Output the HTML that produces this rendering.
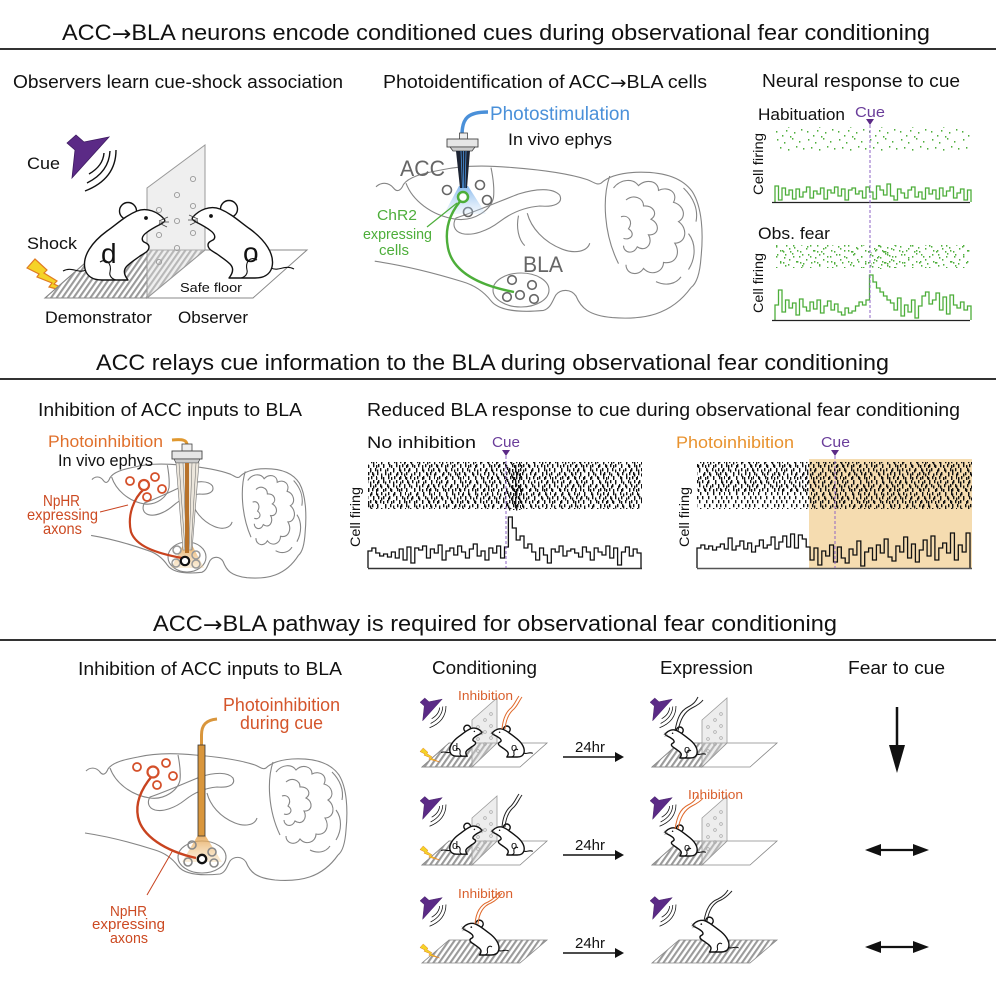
<!DOCTYPE html>
<html><head><meta charset="utf-8"><style>
html,body{margin:0;padding:0;background:#fff;}
svg{display:block;}
text{font-family:"Liberation Sans",Arial,sans-serif;}
</style></head><body>
<svg width="996" height="996" viewBox="0 0 996 996" xmlns="http://www.w3.org/2000/svg">
<defs>
<pattern id="stripe" width="4.6" height="10" patternUnits="userSpaceOnUse" patternTransform="rotate(35)"><rect width="2.1" height="10" fill="#9a9a9a"/></pattern>
<pattern id="rk" width="29" height="16" patternUnits="userSpaceOnUse"><path fill="#111" d="M1,0h1.4v3.3h-1.4z M6,0h1.4v3.3h-1.4z M12,0h1.4v3.3h-1.4z M19,0h1.4v3.3h-1.4z M25,0h1.4v3.3h-1.4z M3,4h1.4v3.3h-1.4z M10,4h1.4v3.3h-1.4z M16,4h1.4v3.3h-1.4z M22,4h1.4v3.3h-1.4z M27,4h1.4v3.3h-1.4z M0,8h1.4v3.3h-1.4z M8,8h1.4v3.3h-1.4z M13,8h1.4v3.3h-1.4z M20,8h1.4v3.3h-1.4z M24,8h1.4v3.3h-1.4z M4,12h1.4v3.3h-1.4z M11,12h1.4v3.3h-1.4z M17,12h1.4v3.3h-1.4z M23,12h1.4v3.3h-1.4z M28,12h1v3.3h-1z"/></pattern>
<pattern id="rk2" width="23" height="12" patternUnits="userSpaceOnUse"><path fill="#111" d="M2,1.5h1.3v3h-1.3z M9,1.5h1.3v3h-1.3z M17,1.5h1.3v3h-1.3z M5,5.5h1.3v3h-1.3z M13,5.5h1.3v3h-1.3z M20,5.5h1.3v3h-1.3z M0,9h1.3v3h-1.3z M8,9h1.3v3h-1.3z M15,9h1.3v3h-1.3z"/></pattern>
<pattern id="g1" width="31" height="23" patternUnits="userSpaceOnUse"><path fill="#4dae3a" d="M2,1h1.4v1.6h-1.4z M9,4h1.4v1.6h-1.4z M17,0h1.4v1.6h-1.4z M24,3h1.4v1.6h-1.4z M5,9h1.4v1.6h-1.4z M13,11h1.4v1.6h-1.4z M21,8h1.4v1.6h-1.4z M28,10h1.4v1.6h-1.4z M1,16h1.4v1.6h-1.4z M11,15h1.4v1.6h-1.4z M19,17h1.4v1.6h-1.4z M26,14h1.4v1.6h-1.4z M7,20h1.4v1.6h-1.4z M15,21h1.4v1.6h-1.4z"/></pattern>
<pattern id="g2" width="17" height="11" patternUnits="userSpaceOnUse"><path fill="#4dae3a" d="M3,1h1.4v1.6h-1.4z M11,3h1.4v1.6h-1.4z M7,6h1.4v1.6h-1.4z M15,8h1.4v1.6h-1.4z M1,9h1.4v1.6h-1.4z"/></pattern>
<linearGradient id="bluecone" x1="0" y1="0" x2="0" y2="1"><stop offset="0" stop-color="#6aa8e8" stop-opacity="0.8"/><stop offset="1" stop-color="#bcd9f5" stop-opacity="0.2"/></linearGradient>
<linearGradient id="orcone" x1="0" y1="0" x2="0" y2="1"><stop offset="0" stop-color="#e3a04a" stop-opacity="0.85"/><stop offset="1" stop-color="#f2cf98" stop-opacity="0.35"/></linearGradient>

<g id="brain" fill="none" stroke="#858585" stroke-width="1.1">
<path vector-effect="non-scaling-stroke" d="M26,131 C30,127 36,127 40,132 C43,136 46,134 48,129 C52,123 62,120 78,117 C95,113 115,113 135,115 C160,117 180,120 195,125 C200,127 203,130 206,128 C210,124 218,120 232,119 C252,118 270,122 279,135 C287,148 288,170 286,190 C285,205 282,212 278,215"/>
<path vector-effect="non-scaling-stroke" d="M25,193 C45,196 70,202 95,210 C105,213 112,218 118,226 C124,234 140,236 160,234 C166,232 167,226 170,221 C174,216 182,216 186,222 C190,232 196,238 215,240 C240,242 262,238 278,215"/>
<path vector-effect="non-scaling-stroke" d="M50,128 C55,142 70,155 90,158 C105,160 118,150 120,140 C121,130 119,120 118,115"/>
<path vector-effect="non-scaling-stroke" d="M90,157 C105,152 125,143 140,137 C155,132 168,132 173,138 C176,145 168,148 157,147 C145,148 135,152 125,160 C115,168 103,172 95,170 C88,168 87,162 90,157 Z"/>
<path vector-effect="non-scaling-stroke" d="M147,153 C150,165 160,177 175,183 C185,187 195,185 197,178"/>
<path vector-effect="non-scaling-stroke" d="M140,155 C138,165 140,175 145,180"/>
<path vector-effect="non-scaling-stroke" d="M213,122 C207,140 208,170 220,195"/>
<path vector-effect="non-scaling-stroke" d="M216,132 C222,124 232,124 236,130 C242,124 252,126 252,134 C260,130 268,136 264,144 C272,146 275,156 268,160 C276,166 274,178 265,178 C270,186 266,196 256,194 C256,202 246,206 240,199 C236,206 226,204 226,196"/>
<path vector-effect="non-scaling-stroke" d="M226,142 C232,137 240,140 240,147 C248,146 252,154 246,158 C254,162 252,172 244,171 C248,178 242,186 235,181 C232,188 224,186 224,180"/>
<path vector-effect="non-scaling-stroke" d="M222,156 C228,154 232,160 228,166 C234,170 230,176 224,174"/>
<path vector-effect="non-scaling-stroke" d="M272,132 C280,140 284,150 282,160 M276,170 C282,178 282,190 276,200 M250,210 C258,214 266,212 270,206"/>
</g>

<g id="mouse">
<circle cx="128" cy="211" r="8.5" fill="#fff" stroke="#111" stroke-width="1.4" vector-effect="non-scaling-stroke"/>
<path d="M86,270 C78,274 72,266 63,271" fill="none" stroke="#111" stroke-width="1.1" vector-effect="non-scaling-stroke"/>
<path d="M164,219 C158,212 147,207 137,211 C125,216 117,224 107,231 C92,242 82,256 85,269 C87,277 94,280 102,280 L128,280 C124,275 123,270 127,266 C131,262 136,259 140,256 C145,253 149,251 149,247 C149,244 146,243 144,242 C141,240 142,236 146,233 C151,229 157,226 161,224 C164,222 166,221 164,219 Z" fill="#fff" stroke="#111" stroke-width="1.4" stroke-linejoin="round" vector-effect="non-scaling-stroke"/>
<path d="M100,262 C106,258 112,263 110,272 C109,276 112,279 116,280" fill="none" stroke="#111" stroke-width="1.1" vector-effect="non-scaling-stroke"/>
<circle cx="146" cy="218" r="1.9" fill="#111"/>
<path d="M159,221 l9,-4 M159,222 l10,0 M159,223 l8,4" stroke="#444" stroke-width="0.7" fill="none"/>
</g>

<g id="spk">
<polygon points="67,143 76,135 84,142 109,137 72,178 75,150" fill="#5b2a86" stroke="#3d1a60" stroke-width="0.8"/>
<path d="M104,153 Q103,166 89,174 M110,151 Q109,172 87,183 M116,150 Q116,179 85,191" fill="none" stroke="#111" stroke-width="1.4"/>
</g>
<polygon id="bolt" points="27,268 35,259 47,270 44,273 57,281 54,284 76,294 49,287 52,283 37,277 39,274" fill="#f5d327" stroke="#e07b22" stroke-width="1.2"/>

<g id="condFloor">
<polygon points="422,767 520,767 547,743 449,743" fill="#fff" stroke="#888" stroke-width="0.8"/>
<polygon points="422,767 472,767 497,743 449,743" fill="url(#stripe)" stroke="#888" stroke-width="0.8"/>
<polygon points="472,767 472,720 497,698 497,743" fill="#d8d8d8" fill-opacity="0.45" stroke="#999" stroke-width="0.8"/>
<g fill="none" stroke="#aaa" stroke-width="0.7"><circle cx="478" cy="727" r="1.4"/><circle cx="478" cy="739" r="1.4"/><circle cx="478" cy="751" r="1.4"/><circle cx="485" cy="720" r="1.4"/><circle cx="485" cy="732" r="1.4"/><circle cx="485" cy="744" r="1.4"/><circle cx="491" cy="714" r="1.4"/><circle cx="491" cy="726" r="1.4"/><circle cx="491" cy="738" r="1.4"/></g>
</g>
<polygon id="floor3" points="422,963 520,963 547,940 449,940" fill="url(#stripe)" stroke="#888" stroke-width="0.8"/>
</defs>

<rect width="996" height="996" fill="#fff"/>

<!-- Titles and dividers -->
<text x="62" y="40" font-size="22" textLength="868" lengthAdjust="spacingAndGlyphs" fill="#111">ACC<tspan font-family="DejaVu Sans" dy="1">→</tspan><tspan dy="-1">BLA neurons encode conditioned cues during observational fear conditioning</tspan></text>
<line x1="0" y1="49" x2="996" y2="49" stroke="#333" stroke-width="2"/>
<text x="96" y="370" font-size="22" textLength="793" lengthAdjust="spacingAndGlyphs" fill="#111">ACC relays cue information to the BLA during observational fear conditioning</text>
<line x1="0" y1="379" x2="996" y2="379" stroke="#333" stroke-width="2"/>
<text x="153" y="631" font-size="22" textLength="684" lengthAdjust="spacingAndGlyphs" fill="#111">ACC<tspan font-family="DejaVu Sans" dy="1">→</tspan><tspan dy="-1">BLA pathway is required for observational fear conditioning</tspan></text>
<line x1="0" y1="640" x2="996" y2="640" stroke="#333" stroke-width="2"/>

<!-- ===== Section 1 left ===== -->
<text x="13" y="88" font-size="18" textLength="330" lengthAdjust="spacingAndGlyphs" fill="#111">Observers learn cue-shock association</text>
<use href="#spk"/>
<text x="27" y="169" font-size="17" textLength="33" lengthAdjust="spacingAndGlyphs" fill="#111">Cue</text>
<text x="27" y="249" font-size="17" textLength="50" lengthAdjust="spacingAndGlyphs" fill="#111">Shock</text>
<use href="#bolt"/>
<polygon points="45,298 253,298 307,250 100,250" fill="#fff" stroke="#888" stroke-width="1"/>
<polygon points="45,298 147,298 205,250 100,250" fill="url(#stripe)" stroke="#888" stroke-width="1"/>
<polygon points="147,298 147,188 205,145 205,250" fill="#dcdcdc" fill-opacity="0.45" stroke="#999" stroke-width="1"/>
<g fill="none" stroke="#999" stroke-width="0.9"><circle cx="193" cy="179" r="2.6"/><circle cx="177" cy="195" r="2.6"/><circle cx="193" cy="206" r="2.6"/><circle cx="159" cy="210" r="2.6"/><circle cx="177" cy="221" r="2.6"/><circle cx="193" cy="233" r="2.6"/><circle cx="159" cy="235" r="2.6"/><circle cx="177" cy="248" r="2.6"/><circle cx="159" cy="262" r="2.6"/></g>
<use href="#mouse"/>
<use href="#mouse" transform="matrix(-1,0,0,1,357,-2)"/>
<text x="101" y="263" font-size="28" fill="#111">d</text>
<text x="243" y="262" font-size="28" fill="#111">o</text>
<text x="180" y="292" font-size="13" textLength="62" lengthAdjust="spacingAndGlyphs" fill="#111">Safe floor</text>
<text x="45" y="323" font-size="17" textLength="107" lengthAdjust="spacingAndGlyphs" fill="#111">Demonstrator</text>
<text x="178" y="323" font-size="17" textLength="70" lengthAdjust="spacingAndGlyphs" fill="#111">Observer</text>

<!-- ===== Section 1 middle ===== -->
<text x="383" y="88" font-size="18" textLength="324" lengthAdjust="spacingAndGlyphs" fill="#111">Photoidentification of ACC<tspan font-family="DejaVu Sans" dy="1">→</tspan><tspan dy="-1">BLA cells</tspan></text>
<use href="#brain" transform="translate(343.5,29.6) scale(1.25,1.2)"/>
<ellipse cx="521" cy="290" rx="28" ry="17" fill="none" stroke="#858585" stroke-width="1.1"/>
<g fill="none" stroke="#666" stroke-width="1.6"><circle cx="447" cy="190" r="4.5"/><circle cx="480" cy="185" r="4.5"/><circle cx="487" cy="200" r="4.5"/><circle cx="468" cy="212" r="4.5"/>
<circle cx="512" cy="280" r="4.3"/><circle cx="532" cy="285" r="4.3"/><circle cx="507" cy="297" r="4.3"/><circle cx="520" cy="295" r="4.3"/><circle cx="534" cy="299" r="4.3"/></g>
<polygon points="459,186 468,186 486,214 444,214" fill="url(#bluecone)"/>
<path d="M463,198 C450,212 444,228 448,248 C452,268 472,284 514,292" fill="none" stroke="#4dae3a" stroke-width="2.4"/>
<circle cx="463" cy="197" r="5" fill="#fff" stroke="#4dae3a" stroke-width="2.5"/>
<line x1="427" y1="227" x2="457" y2="203" stroke="#4dae3a" stroke-width="1.2"/>
<path d="M462,135 C462,118 468,112 488,112" fill="none" stroke="#4a90d9" stroke-width="3.5"/>
<rect x="459.5" y="133" width="8" height="6" fill="#eee" stroke="#444" stroke-width="0.8"/>
<rect x="447" y="139" width="31" height="8" fill="#e6e6e6" stroke="#444" stroke-width="0.9"/>
<polygon points="450,147 475,147 472,151 453,151" fill="#ccc" stroke="#444" stroke-width="0.8"/>
<polygon points="456,151 470,151 467,188 460,188" fill="#1d2433"/>
<path d="M461,151 L462.5,188 M463.5,151 L463.5,188 M466,151 L465,188" stroke="#4a90d9" stroke-width="0.8"/>
<text x="490" y="120" font-size="19" textLength="140" lengthAdjust="spacingAndGlyphs" fill="#4a90d9">Photostimulation</text>
<text x="508" y="145" font-size="17" textLength="104" lengthAdjust="spacingAndGlyphs" fill="#111">In vivo ephys</text>
<text x="400" y="176" font-size="22" textLength="45" lengthAdjust="spacingAndGlyphs" fill="#666">ACC</text>
<text x="523" y="272" font-size="22" textLength="40" lengthAdjust="spacingAndGlyphs" fill="#666">BLA</text>
<text x="377" y="220" font-size="15" textLength="40" lengthAdjust="spacingAndGlyphs" fill="#4dae3a">ChR2</text>
<text x="363" y="239" font-size="15" textLength="69" lengthAdjust="spacingAndGlyphs" fill="#4dae3a">expressing</text>
<text x="379" y="255" font-size="15" textLength="30" lengthAdjust="spacingAndGlyphs" fill="#4dae3a">cells</text>

<!-- ===== Section 1 right ===== -->
<text x="762" y="87" font-size="18" textLength="198" lengthAdjust="spacingAndGlyphs" fill="#111">Neural response to cue</text>
<text x="758" y="120" font-size="17" textLength="87" lengthAdjust="spacingAndGlyphs" fill="#111">Habituation</text>
<text x="855" y="117" font-size="15" textLength="30" lengthAdjust="spacingAndGlyphs" fill="#6a3d9a">Cue</text>
<polygon points="866,119 874,119 870,125" fill="#5b2a86"/>
<rect x="775" y="127" width="195" height="24" fill="url(#g1)"/>
<rect x="775" y="245" width="195" height="23" fill="url(#g1)"/>
<rect x="775" y="245" width="195" height="23" fill="url(#g2)"/>
<rect x="869" y="245" width="24" height="23" fill="url(#g2)" transform="translate(2,1)"/>
<path d="M775,202V186h3.5V200h3.5V188h3.5V195h3.5V190h3.5V199h3.5V189h3.5V197h3.5V192h3.5V187h3.5V198h3.5V191h3.5V194h3.5V188h3.5V199h3.5V190h3.5V193h3.5V187h3.5V196h3.5V189h3.5V200h3.5V190h3.5V188h3.5V194h3.5V191h3.5V198h3.5V187h3.5V192h3.5V199h3.5V186h3.5V190h3.5V195h3.5V184h3.5V196h3.5V200h3.5V189h3.5V193h3.5V198h3.5V190h3.5V187h3.5V197h3.5V192h3.5V199h3.5V188h3.5V194h3.5V190h3.5V199h3.5V188h3.5V196h3.5V191h3.5V187h3.5V198h3.5V193h3.5V189h3.5V200h3.5V190h3.5V202" fill="none" stroke="#4dae3a" stroke-width="1.3"/>
<path d="M775,320V305h3.5V290h3.5V312h3.5V300h3.5V308h3.5V303h3.5V315h3.5V299h3.5V307h3.5V311h3.5V302h3.5V309h3.5V300h3.5V313h3.5V306h3.5V301h3.5V310h3.5V304h3.5V312h3.5V315h3.5V308h3.5V313h3.5V311h3.5V306h3.5V302h3.5V305h3.5V300h3.5V275h3.5V282h3.5V288h3.5V292h3.5V296h3.5V300h3.5V303h3.5V310h3.5V298h3.5V316h3.5V305h3.5V312h3.5V300h3.5V318h3.5V306h3.5V296h3.5V292h3.5V304h3.5V300h3.5V293h3.5V310h3.5V297h3.5V314h3.5V295h3.5V305h3.5V308h3.5V302h3.5V310h3.5V306h3.5V320" fill="none" stroke="#4dae3a" stroke-width="1.3"/>
<line x1="772" y1="202.5" x2="970" y2="202.5" stroke="#222" stroke-width="1.3"/>
<line x1="772" y1="320.5" x2="970" y2="320.5" stroke="#222" stroke-width="1.3"/>
<line x1="870" y1="125" x2="870" y2="320" stroke="#8e63c4" stroke-width="1" stroke-dasharray="3,2"/>
<text transform="translate(763,164) rotate(-90)" text-anchor="middle" font-size="14" textLength="62" lengthAdjust="spacingAndGlyphs" fill="#111">Cell firing</text>
<text x="758" y="239" font-size="17" textLength="72" lengthAdjust="spacingAndGlyphs" fill="#111">Obs. fear</text>
<text transform="translate(763,283) rotate(-90)" text-anchor="middle" font-size="14" textLength="60" lengthAdjust="spacingAndGlyphs" fill="#111">Cell firing</text>

<!-- ===== Section 2 left ===== -->
<text x="38" y="416" font-size="18" textLength="264" lengthAdjust="spacingAndGlyphs" fill="#111">Inhibition of ACC inputs to BLA</text>
<use href="#brain" transform="translate(70.6,361.7) scale(0.82,0.9)"/>
<ellipse cx="187" cy="557" rx="19" ry="15" fill="none" stroke="#858585" stroke-width="1.1"/>
<polygon points="183,545 192,545 204,568 171,568" fill="url(#orcone)"/>
<g fill="none" stroke="#999" stroke-width="1.5"><circle cx="177" cy="550" r="4"/><circle cx="196" cy="555" r="4"/><circle cx="176" cy="563" r="4"/><circle cx="196" cy="564" r="4"/></g>
<g fill="none" stroke="#d4502a" stroke-width="1.8"><circle cx="130" cy="481" r="4"/><circle cx="155" cy="477" r="4"/><circle cx="162" cy="489" r="4"/><circle cx="147" cy="497" r="4"/></g>
<path d="M144,489 C134,498 127,515 131,532 C136,546 155,553 182,558" fill="none" stroke="#c8431f" stroke-width="2.2"/>
<circle cx="144" cy="485" r="5" fill="#fff" stroke="#d4502a" stroke-width="2.2"/>
<line x1="100" y1="512" x2="128" y2="505" stroke="#c8431f" stroke-width="1"/>
<path d="M187,445 C187,440 183,439 172,440" fill="none" stroke="#e0982f" stroke-width="3"/>
<rect x="182" y="444" width="10" height="7" fill="#eee" stroke="#444" stroke-width="0.8"/>
<rect x="172" y="451" width="30" height="8" fill="#e6e6e6" stroke="#444" stroke-width="0.9"/>
<polygon points="174,459 200,459 198,463 176,463" fill="#ccc" stroke="#444" stroke-width="0.7"/>
<polygon points="176,463 199,463 192,550 183,550" fill="#ece6dc" stroke="#777" stroke-width="0.6"/>
<path d="M179,463 L185,550 M183,463 L186.5,550 M192,463 L189,550 M196,463 L191,550" stroke="#666" stroke-width="0.5"/>
<rect x="185" y="463" width="4" height="90" fill="#b8722a"/>
<circle cx="185" cy="561" r="4.2" fill="#fff" stroke="#111" stroke-width="2.2"/>
<text x="48" y="447" font-size="17" textLength="115" lengthAdjust="spacingAndGlyphs" fill="#e0702c">Photoinhibition</text>
<text x="58" y="466" font-size="17" textLength="95" lengthAdjust="spacingAndGlyphs" fill="#111">In vivo ephys</text>
<text x="43" y="506" font-size="16" textLength="37" lengthAdjust="spacingAndGlyphs" fill="#cc4a22">NpHR</text>
<text x="27" y="520" font-size="16" textLength="71" lengthAdjust="spacingAndGlyphs" fill="#cc4a22">expressing</text>
<text x="43" y="534" font-size="16" textLength="39" lengthAdjust="spacingAndGlyphs" fill="#cc4a22">axons</text>

<!-- ===== Section 2 right ===== -->
<text x="367" y="416" font-size="18" textLength="593" lengthAdjust="spacingAndGlyphs" fill="#111">Reduced BLA response to cue during observational fear conditioning</text>
<text x="367" y="448" font-size="17" textLength="109" lengthAdjust="spacingAndGlyphs" fill="#111">No inhibition</text>
<text x="492" y="447" font-size="15" textLength="28" lengthAdjust="spacingAndGlyphs" fill="#6a3d9a">Cue</text>
<polygon points="502,450 510,450 506,456" fill="#5b2a86"/>
<rect x="368" y="462" width="274" height="47" fill="url(#rk)"/>
<rect x="368" y="462" width="274" height="47" fill="url(#rk2)"/>
<rect x="506" y="462" width="14" height="47" fill="url(#rk2)" transform="translate(1,2)"/>
<rect x="508" y="462" width="10" height="47" fill="url(#rk)" transform="translate(3,1)"/>
<path d="M368,568V551h3.9V548h3.9V553h3.9V556h3.9V554h3.9V557h3.9V552h3.9V558h3.9V549h3.9V560h3.9V547h3.9V563h3.9V548h3.9V550h3.9V546h3.9V558h3.9V549h3.9V553h3.9V545h3.9V560h3.9V551h3.9V548h3.9V555h3.9V546h3.9V552h3.9V558h3.9V549h3.9V544h3.9V556h3.9V551h3.9V560h3.9V548h3.9V553h3.9V546h3.9V558h3.9V547h3.9V517h3.9V528h3.9V540h3.9V536h3.9V548h3.9V544h3.9V552h3.9V560h3.9V548h3.9V555h3.9V563h3.9V549h3.9V552h3.9V546h3.9V556h3.9V551h3.9V549h3.9V553h3.9V557h3.9V547h3.9V552h3.9V560h3.9V548h3.9V552h3.9V555h3.9V546h3.9V558h3.9V548h3.9V565h3.9V552h3.9V547h3.9V556h3.9V549h3.9V553h3.9V568" fill="none" stroke="#111" stroke-width="1.3"/>
<line x1="368" y1="568.5" x2="642" y2="568.5" stroke="#333" stroke-width="1.5"/>
<line x1="506" y1="456" x2="506" y2="568" stroke="#8e63c4" stroke-width="1" stroke-dasharray="3,2"/>
<text transform="translate(360,517) rotate(-90)" text-anchor="middle" font-size="14" textLength="60" lengthAdjust="spacingAndGlyphs" fill="#111">Cell firing</text>

<rect x="809" y="459" width="163" height="109" fill="#f5dcb0"/>
<text x="676" y="448" font-size="17" textLength="118" lengthAdjust="spacingAndGlyphs" fill="#e8922e">Photoinhibition</text>
<text x="821" y="447" font-size="15" textLength="29" lengthAdjust="spacingAndGlyphs" fill="#6a3d9a">Cue</text>
<polygon points="831,450 839,450 835,456" fill="#5b2a86"/>
<rect x="697" y="462" width="275" height="47" fill="url(#rk)"/>
<rect x="697" y="462" width="275" height="30" fill="url(#rk2)"/>
<rect x="809" y="462" width="163" height="47" fill="url(#rk2)"/>
<path d="M697,568V548h3.9V545h3.9V549h3.9V546h3.9V550h3.9V547h3.9V544h3.9V549h3.9V538h3.9V550h3.9V546h3.9V541h3.9V549h3.9V543h3.9V552h3.9V546h3.9V540h3.9V548h3.9V545h3.9V537h3.9V549h3.9V542h3.9V536h3.9V547h3.9V534h3.9V548h3.9V535h3.9V539h3.9V547h3.9V560h3.9V548h3.9V565h3.9V551h3.9V556h3.9V545h3.9V562h3.9V547h3.9V558h3.9V563h3.9V549h3.9V555h3.9V541h3.9V566h3.9V552h3.9V548h3.9V560h3.9V545h3.9V553h3.9V539h3.9V557h3.9V561h3.9V546h3.9V552h3.9V537h3.9V558h3.9V544h3.9V562h3.9V550h3.9V540h3.9V556h3.9V536h3.9V560h3.9V548h3.9V543h3.9V553h3.9V533h3.9V560h3.9V545h3.9V552h3.9V533h3.9V568" fill="none" stroke="#111" stroke-width="1.3"/>
<line x1="697" y1="568.5" x2="972" y2="568.5" stroke="#555" stroke-width="1.5"/>
<line x1="835" y1="456" x2="835" y2="568" stroke="#8e63c4" stroke-width="1" stroke-dasharray="3,2"/>
<text transform="translate(689,517) rotate(-90)" text-anchor="middle" font-size="14" textLength="60" lengthAdjust="spacingAndGlyphs" fill="#111">Cell firing</text>

<!-- ===== Section 3 left ===== -->
<text x="78" y="675" font-size="18" textLength="264" lengthAdjust="spacingAndGlyphs" fill="#111">Inhibition of ACC inputs to BLA</text>
<use href="#brain" transform="translate(60,640)"/>
<ellipse cx="202" cy="857" rx="24" ry="16" fill="none" stroke="#858585" stroke-width="1.1"/>
<polygon points="198,835 205,835 222,862 182,862" fill="url(#orcone)"/>
<g fill="none" stroke="#888" stroke-width="1.6"><circle cx="192" cy="845" r="4"/><circle cx="212" cy="852" r="4"/><circle cx="188" cy="862" r="4"/><circle cx="214" cy="863" r="4"/></g>
<circle cx="202" cy="859" r="4.2" fill="#fff" stroke="#111" stroke-width="2.3"/>
<g fill="none" stroke="#d4502a" stroke-width="1.8"><circle cx="137" cy="767" r="4"/><circle cx="166" cy="763" r="4"/><circle cx="173" cy="776" r="4"/><circle cx="157" cy="785" r="4"/></g>
<path d="M152,776 C142,788 135,802 138,817 C142,836 165,851 196,858" fill="none" stroke="#c8431f" stroke-width="2.4"/>
<circle cx="153" cy="772" r="5.5" fill="#fff" stroke="#d4502a" stroke-width="2.2"/>
<line x1="173" y1="850" x2="147" y2="895" stroke="#c8431f" stroke-width="1"/>
<path d="M201.5,745 L201.5,735 C201.5,725 206,720 217,719" fill="none" stroke="#d9963c" stroke-width="3"/>
<rect x="198" y="745" width="7" height="91" fill="#d9963c" stroke="#333" stroke-width="0.8"/>
<text x="223" y="711" font-size="18" textLength="117" lengthAdjust="spacingAndGlyphs" fill="#d4552b">Photoinhibition</text>
<text x="240" y="729" font-size="18" textLength="83" lengthAdjust="spacingAndGlyphs" fill="#d4552b">during cue</text>
<text x="110" y="916" font-size="15" textLength="37" lengthAdjust="spacingAndGlyphs" fill="#cc4a22">NpHR</text>
<text x="92" y="929" font-size="15" textLength="73" lengthAdjust="spacingAndGlyphs" fill="#cc4a22">expressing</text>
<text x="110" y="943" font-size="15" textLength="38" lengthAdjust="spacingAndGlyphs" fill="#cc4a22">axons</text>

<!-- ===== Section 3 middle/right ===== -->
<text x="432" y="674" font-size="18" textLength="105" lengthAdjust="spacingAndGlyphs" fill="#111">Conditioning</text>
<text x="660" y="674" font-size="18" textLength="93" lengthAdjust="spacingAndGlyphs" fill="#111">Expression</text>
<text x="848" y="674" font-size="18" textLength="97" lengthAdjust="spacingAndGlyphs" fill="#111">Fear to cue</text>

<use href="#condFloor"/>
<use href="#condFloor" transform="translate(0,98)"/>
<use href="#condFloor" transform="translate(230,0)"/>
<use href="#condFloor" transform="translate(230,98)"/>
<use href="#floor3"/>
<use href="#floor3" transform="translate(230,0)"/>

<use href="#spk" transform="translate(384.5,626.5) scale(0.53)"/>
<use href="#spk" transform="translate(384.5,725) scale(0.53)"/>
<use href="#spk" transform="translate(384.5,825) scale(0.53)"/>
<use href="#spk" transform="translate(614.5,626.5) scale(0.53)"/>
<use href="#spk" transform="translate(614.5,725) scale(0.53)"/>
<use href="#spk" transform="translate(614.5,825) scale(0.53)"/>
<use href="#bolt" transform="translate(409.2,644.4) scale(0.4)"/>
<use href="#bolt" transform="translate(409.2,742.4) scale(0.4)"/>
<use href="#bolt" transform="translate(409.2,840.4) scale(0.4)"/>

<use href="#mouse" transform="matrix(0.4,0,0,0.4,416,644.2)"/>
<use href="#mouse" transform="matrix(-0.4,0,0,0.4,558,645)"/>
<use href="#mouse" transform="matrix(-0.4,0,0,0.4,731,646)"/>
<use href="#mouse" transform="matrix(0.4,0,0,0.4,416,742.2)"/>
<use href="#mouse" transform="matrix(-0.4,0,0,0.4,558,743)"/>
<use href="#mouse" transform="matrix(-0.4,0,0,0.4,731,744)"/>
<use href="#mouse" transform="matrix(-0.45,0,0,0.45,537,829)"/>
<use href="#mouse" transform="matrix(-0.45,0,0,0.45,767,826)"/>

<g font-size="11" fill="#111">
<text x="452" y="751">d</text><text x="511" y="751">o</text><text x="684" y="753">o</text>
<text x="452" y="849">d</text><text x="511" y="849">o</text><text x="684" y="851">o</text>
</g>

<g fill="none" stroke-width="1">
<path d="M502,729 C503,718 506,712 511,708 C515,704 516,700 519,696 M505,729 C506,719 509,713 514,709 C518,705 519,701 522,697" stroke="#e06a2c"/>
<path d="M675,731 C677,719 680,711 688,707 C694,704 696,701 698,697 M678,731 C680,720 684,712 692,708 C698,705 701,703 703,700" stroke="#222"/>
<path d="M502,827 C503,816 506,810 511,806 C515,802 516,798 519,794 M505,827 C506,817 509,811 514,807 C518,803 519,799 522,795" stroke="#222"/>
<path d="M675,829 C677,817 680,809 688,805 C694,802 696,799 698,795 M678,829 C680,818 684,810 692,806 C698,803 701,801 703,798" stroke="#e06a2c"/>
<path d="M475,924 C476,912 480,905 488,902 C494,899 496,896 499,892 M478,924 C479,913 483,906 491,903 C497,900 499,897 502,893" stroke="#e06a2c"/>
<path d="M704,921 C706,909 710,902 718,899 C724,896 726,893 728,890 M707,921 C709,910 713,903 721,900 C727,897 729,894 732,891" stroke="#222"/>
</g>

<text x="458" y="700" font-size="13" textLength="55" lengthAdjust="spacingAndGlyphs" fill="#d9602e">Inhibition</text>
<text x="688" y="799" font-size="13" textLength="55" lengthAdjust="spacingAndGlyphs" fill="#d9602e">Inhibition</text>
<text x="458" y="898" font-size="13" textLength="55" lengthAdjust="spacingAndGlyphs" fill="#d9602e">Inhibition</text>

<g fill="#111">
<text x="575" y="752" font-size="15" textLength="30" lengthAdjust="spacingAndGlyphs">24hr</text>
<line x1="563" y1="757" x2="617" y2="757" stroke="#111" stroke-width="1.4"/>
<polygon points="615,752 624,757 615,762"/>
<text x="575" y="850" font-size="15" textLength="30" lengthAdjust="spacingAndGlyphs">24hr</text>
<line x1="563" y1="855" x2="617" y2="855" stroke="#111" stroke-width="1.4"/>
<polygon points="615,850 624,855 615,860"/>
<text x="575" y="948" font-size="15" textLength="30" lengthAdjust="spacingAndGlyphs">24hr</text>
<line x1="563" y1="953" x2="617" y2="953" stroke="#111" stroke-width="1.4"/>
<polygon points="615,948 624,953 615,958"/>
</g>

<g fill="#111">
<line x1="897" y1="707" x2="897" y2="748" stroke="#111" stroke-width="2.5"/>
<polygon points="889,745 905,745 897,773"/>
<line x1="876" y1="850" x2="917" y2="850" stroke="#111" stroke-width="2.2"/>
<polygon points="865,850 881,844 881,856"/>
<polygon points="929,850 913,844 913,856"/>
<line x1="876" y1="947" x2="917" y2="947" stroke="#111" stroke-width="2.2"/>
<polygon points="865,947 881,941 881,953"/>
<polygon points="929,947 913,941 913,953"/>
</g>
</svg>
</body></html>
